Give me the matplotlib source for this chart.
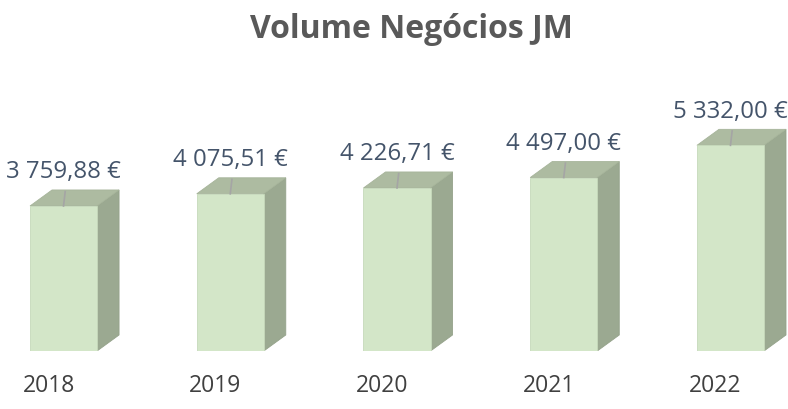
import matplotlib.pyplot as plt
from matplotlib.patches import Polygon

anos = ["2018", "2019", "2020", "2021", "2022"]
volume = [3759.88, 4075.51, 4226.71, 4497.00, 5332.00]
rotulos = ["3 759,88 €", "4 075,51 €", "4 226,71 €", "4 497,00 €", "5 332,00 €"]

plt.rcParams['font.family'] = ['Open Sans', 'DejaVu Sans']

fig = plt.figure(figsize=(7.88, 4.09), dpi=100)
ax = fig.add_axes([0, 58 / 409, 1, 351 / 409])
ax.set_xlim(-0.381, 4.345)
ax.set_ylim(0, 9100)
ax.axis('off')

w = 0.402      # largura da face frontal
dx = 0.132     # profundidade (x)
dy = 415       # profundidade (y)

for i, v in enumerate(volume):
    x0, x1 = i - w / 2, i + w / 2
    frente = Polygon([(x0, 0), (x1, 0), (x1, v), (x0, v)],
                     closed=True, facecolor='#d3e6c8', edgecolor='#c6d9bb', lw=0.6)
    topo = Polygon([(x0, v), (x1, v), (x1 + dx, v + dy), (x0 + dx, v + dy)],
                   closed=True, facecolor='#adbba1', edgecolor='#a6b49a', lw=0.6)
    lado = Polygon([(x1, 0), (x1 + dx, dy), (x1 + dx, v + dy), (x1, v)],
                   closed=True, facecolor='#9ba991', edgecolor='#94a28a', lw=0.6)
    for p in (lado, topo, frente):
        ax.add_patch(p)
    # linha de chamada
    ax.plot([i, i + 0.01], [v, v + dy * 0.9], color='#a5a5a5', lw=1.2)
    ax.text(i, v + dy + 150, rotulos[i], ha='center', va='bottom',
            fontsize=17.3, color='#44546a')
    ax.text(i - 0.09, -900, anos[i], ha='center', va='center',
            fontsize=16.5, color='#404040')

fig.text(0.522, 1 - 30 / 409, "Volume Negócios JM", ha='center', va='center',
         fontsize=23, fontweight='bold', color='#595959')

fig.savefig('out.png', dpi=100)
